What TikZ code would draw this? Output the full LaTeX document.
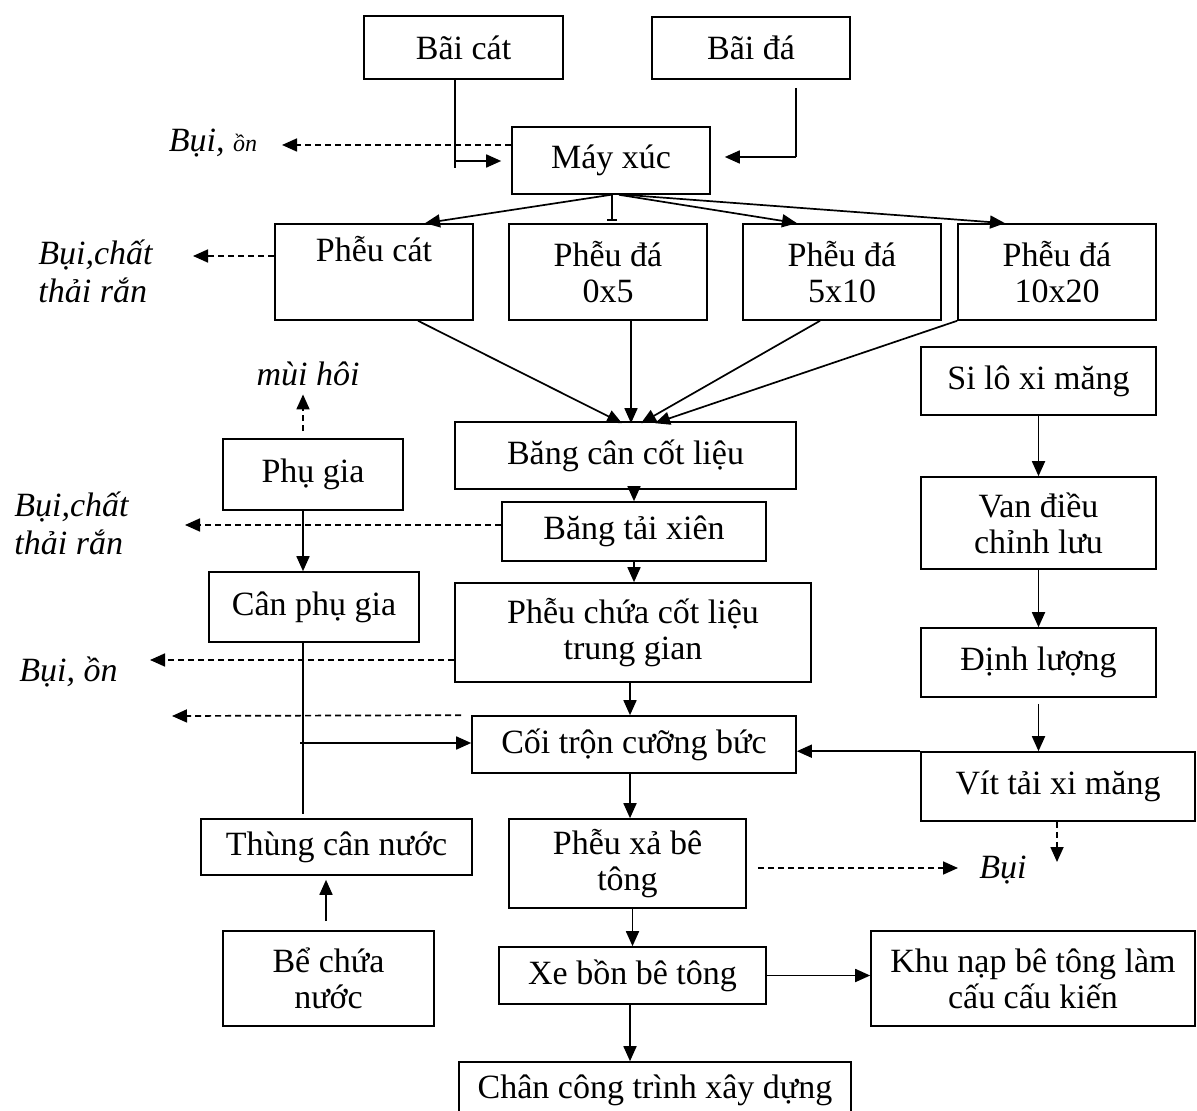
\documentclass[tikz,border=0pt]{standalone}
\usepackage{fontspec}
\setmainfont{Liberation Serif}
\usetikzlibrary{arrows.meta,calc}
\tikzset{
  box/.style={draw, line width=0.8pt, inner sep=2pt, align=center, font=\fontsize{17}{18}\selectfont},
  arr/.style={line width=0.85pt, -{Triangle[length=7.5pt,width=6.5pt]}},
  darr/.style={line width=0.85pt, dash pattern=on 3pt off 2pt, -{Triangle[length=7.5pt,width=6.5pt]}},
  plain/.style={line width=0.85pt},
  lbl/.style={font=\fontsize{17}{19}\selectfont\itshape, align=left, inner sep=0pt},
}
\begin{document}
\begin{tikzpicture}[x=0.5pt,y=-0.5pt]
\useasboundingbox (0,0) rectangle (1197,1111);
% boxes
\node[box, minimum width=99.5pt, minimum height=31.5pt] (baicat) at (463.5,47.5) {Bãi cát};
\node[box, minimum width=99pt, minimum height=31pt] (baida) at (751,48) {Bãi đá};
\node[box, minimum width=99pt, minimum height=33.5pt] (mayxuc) at (611,160.5) {Máy xúc};
\node[box, minimum width=99pt, minimum height=48pt] (phcat) at (374,272) {Phễu cát\\\strut};
\node[box, minimum width=99pt, minimum height=48pt] (phda05) at (608,272) {Phễu đá\\0x5};
\node[box, minimum width=99pt, minimum height=48pt] (phda510) at (842,272) {Phễu đá\\5x10};
\node[box, minimum width=99pt, minimum height=48pt] (phda1020) at (1057,272) {Phễu đá\\10x20};
\node[box, minimum width=170.5pt, minimum height=33.5pt] (bangcan) at (625.5,455.5) {Băng cân cốt liệu};
\node[box, minimum width=132pt, minimum height=29.5pt] (bangtai) at (634,531.5) {Băng tải xiên};
\node[box, minimum width=178pt, minimum height=49.5pt] (pheuchua) at (633,632.5) {Phễu chứa cốt liệu\\trung gian};
\node[box, minimum width=162pt, minimum height=28.5pt] (coitron) at (634,744.5) {Cối trộn cưỡng bức};
\node[box, minimum width=118.5pt, minimum height=44.5pt] (pheuxa) at (627.5,863.5) {Phễu xả bê\\tông};
\node[box, minimum width=133.5pt, minimum height=28.5pt] (xebon) at (632.5,975.5) {Xe bồn bê tông};
\node[box, minimum width=196pt, minimum height=66pt] (chan) at (655,1128) {Chân công trình xây dựng\\\strut\\\strut};
\node[box, minimum width=162pt, minimum height=47.5pt] (khunap) at (1033,978.5) {Khu nạp bê tông làm\\cấu cấu kiến};
\node[box, minimum width=117.5pt, minimum height=34pt] (silo) at (1038.5,381) {Si lô xi măng};
\node[box, minimum width=117.5pt, minimum height=46pt] (van) at (1038.5,523) {Van điều\\chỉnh lưu};
\node[box, minimum width=117.5pt, minimum height=34.5pt] (dinhluong) at (1038.5,662.5) {Định lượng};
\node[box, minimum width=137pt, minimum height=34.5pt] (vittai) at (1058,786.5) {Vít tải xi măng};
\node[box, minimum width=90pt, minimum height=35.5pt] (phugia) at (313,474.5) {Phụ gia};
\node[box, minimum width=105pt, minimum height=35pt] (canphugia) at (314,607) {Cân phụ gia};
\node[box, minimum width=135.5pt, minimum height=28pt] (thungcan) at (336.5,847) {Thùng cân nước};
\node[box, minimum width=105.5pt, minimum height=47.5pt] (bechua) at (328.5,978.5) {Bể chứa\\nước};
% labels
\node[lbl] (bui1) at (213,143) {Bụi, {\fontsize{12}{13}\selectfont ồn}};
\node[lbl, anchor=west] (bui2) at (38,271) {Bụi,chất\\thải rắn};
\node[lbl] (muihoi) at (308,374) {mùi hôi};
\node[lbl, anchor=west] (bui3) at (14,523) {Bụi,chất\\thải rắn};
\node[lbl, anchor=west] (bui4) at (19,672) {Bụi, ồn};
\node[lbl] (bui5) at (1003,870) {Bụi};
% coordinates
\coordinate (bcj) at (455,161);
\coordinate (bcend) at (455,168);
\coordinate (bdtop) at (796,88);
\coordinate (bdj) at (796,157);
\coordinate (d1) at (282,145);
\coordinate (d2) at (193,256);
\coordinate (d3) at (185,525);
\coordinate (d4) at (150,660);
\coordinate (d5) at (172,716);
\coordinate (d6) at (1057,862);
\coordinate (d7) at (958,868);
\coordinate (xm) at (630,0);
\coordinate (px) at (303,0);
\coordinate (wx) at (326,0);
\coordinate (hj) at (300,743);
% top
\draw[plain] (baicat.south -| bcj) -- (bcend);
\draw[arr, shorten >=5pt] (bcj) -- (bcj -| mayxuc.west);
\draw[plain] (bdtop) -- (bdj);
\draw[arr, shorten >=7pt] (bdj) -- (bdj -| mayxuc.east);
\draw[darr] (d1 -| mayxuc.west) -- (d1);
% mayxuc to hoppers
\draw[arr] (mayxuc.south) -- ($(phcat.north)+(51,0)$);
\draw[plain, -{Bar[width=5pt]}] ($(mayxuc.south)+(1,0)$) -- ($(phda05.north)+(4,-2)$);
\draw[arr] ($(mayxuc.south)+(8,0)$) -- ($(phda510.north)+(-45,0)$);
\draw[arr] ($(mayxuc.south)+(14,0)$) -- ($(phda1020.north)+(-52,0)$);
\draw[darr] (d2 -| phcat.west) -- (d2);
% hoppers to bangcan
\draw[arr] ($(phcat.south)+(44,0)$) -- ($(bangcan.north)+(-3.5,2)$);
\draw[arr] ($(phda05.south)+(23,0)$) -- ($(bangcan.north)+(5.5,2)$);
\draw[arr] ($(phda510.south)+(-22,0)$) -- ($(bangcan.north)+(15.5,2)$);
\draw[arr] (phda1020.south west) -- ($(bangcan.north)+(29.5,2)$);
% central column
\draw[arr] (bangcan.south -| bangtai.north) -- (bangtai.north);
\draw[arr] (bangtai.south) -- (bangtai.south |- pheuchua.north);
\draw[arr] (pheuchua.south -| xm) -- (coitron.north -| xm);
\draw[arr] (coitron.south -| xm) -- (pheuxa.north -| xm);
\draw[arr] (pheuxa.south -| xebon.north) -- (xebon.north);
\draw[arr] (xebon.south -| xm) -- (chan.north -| xm);
\draw[arr] (xebon.east) -- (xebon.east -| khunap.west);
% dashed emissions
\draw[darr] (d3 -| bangtai.west) -- (d3);
\draw[darr] (d4 -| pheuchua.west) -- (d4);
\draw[darr] ($(coitron.north west)+(-10,0)$) -- (d5);
\draw[darr, shorten <=5.5pt] (pheuxa.east |- d7) -- (d7);
\draw[darr] (vittai.south -| d6) -- (d6);
\draw[darr, shorten <=3.5pt, shorten >=4pt] (phugia.north -| px) -- (muihoi.south -| px);
% additive / water
\draw[arr] (phugia.south -| px) -- (canphugia.north -| px);
\draw[plain] (canphugia.south -| px) -- ($(thungcan.north -| px)+(0,-4)$);
\draw[arr] (hj) -- (hj -| coitron.west);
\draw[arr, shorten <=4.5pt, shorten >=2pt] (bechua.north -| wx) -- (thungcan.south -| wx);
% cement line
\draw[arr] (silo.south) -- (van.north);
\draw[arr] (van.south) -- (dinhluong.north);
\draw[arr, shorten <=3pt] (dinhluong.south) -- (vittai.north west -| dinhluong.south);
\draw[arr] (vittai.north west) -- (vittai.north west -| coitron.east);
\end{tikzpicture}
\end{document}
